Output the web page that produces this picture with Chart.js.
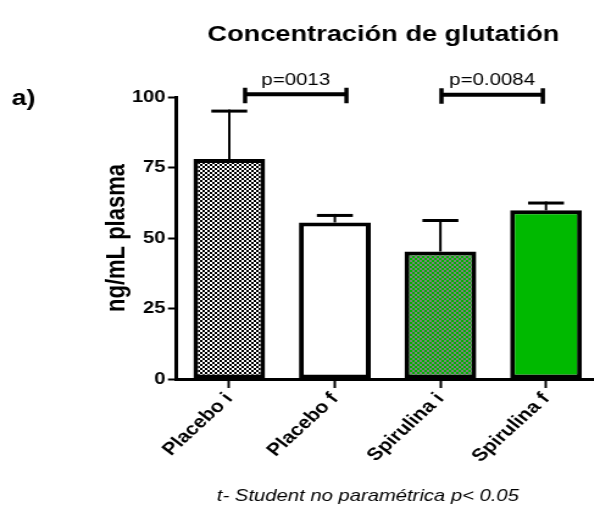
<!DOCTYPE html>
<html><head><meta charset="utf-8">
<script src="https://cdn.jsdelivr.net/npm/chart.js@4/dist/chart.umd.min.js"></script>
<style>
html,body{margin:0;padding:0;overflow:hidden;background:#fff;width:594px;height:518px;}
#c{display:block;width:600px !important;height:518px !important;max-width:none !important;}
</style></head><body>
<canvas id="c" width="492" height="518"></canvas>
<script>
// ---- data ----
const categories = ['Placebo i', 'Placebo f', 'Spirulina i', 'Spirulina f'];
const means = [78, 55.5, 45.2, 59.8];
const errors = [17, 2.5, 11, 2.6];
const yTicks = [0, 25, 50, 75, 100];
const compFrom = [0.15, 2.01];
const compTo = [1.11, 2.97];
const compY = [101, 100.8];
const compLabels = ['p=0013', 'p=0.0084'];
const titleText = 'Concentración de glutatión';
const yTitle = 'ng/mL plasma';
const panelLabel = 'a)';
const footnote = 't- Student no paramétrica p< 0.05';

const FONT = '"Liberation Sans", Arial, sans-serif';

function checker(c1, c2, size) {
  const p = document.createElement('canvas');
  p.width = size * 2; p.height = size * 2;
  const g = p.getContext('2d');
  g.fillStyle = c1; g.fillRect(0, 0, size * 2, size * 2);
  g.fillStyle = c2; g.fillRect(0, 0, size, size); g.fillRect(size, size, size, size);
  return g.createPattern(p, 'repeat');
}
const pat1 = checker('#ffffff', '#000000', 2);
const pat3 = checker('#00b400', '#7f7f7f', 2);

const extras = {
  id: 'extras',
  afterDatasetsDraw(chart) {
    const ctx = chart.ctx, ys = chart.scales.y;
    const meta = chart.getDatasetMeta(0);
    ctx.save();
    ctx.strokeStyle = '#000';
    meta.data.forEach((bar, i) => {
      const x = bar.x;
      const y0 = ys.getPixelForValue(means[i]);
      const y1 = ys.getPixelForValue(means[i] + errors[i]);
      ctx.lineWidth = 2;
      ctx.beginPath(); ctx.moveTo(x, y0); ctx.lineTo(x, y1 - 1.5); ctx.stroke();
      ctx.lineWidth = 3;
      ctx.beginPath(); ctx.moveTo(x - 14.75, y1); ctx.lineTo(x + 14.75, y1); ctx.stroke();
    });
    ctx.restore();
  },
  afterDraw(chart) {
    const ctx = chart.ctx, xs = chart.scales.x, ys = chart.scales.y;
    ctx.save();
    ctx.fillStyle = '#000'; ctx.strokeStyle = '#000';
    compLabels.forEach((lab, i) => {
      const xa = xs.getPixelForValue(compFrom[i]);
      const xb = xs.getPixelForValue(compTo[i]);
      const y = ys.getPixelForValue(compY[i]);
      ctx.lineWidth = 4;
      ctx.beginPath(); ctx.moveTo(xa, y); ctx.lineTo(xb, y); ctx.stroke();
      ctx.lineWidth = 3.5;
      ctx.beginPath();
      ctx.moveTo(xa, y - 6.5); ctx.lineTo(xa, y + 9);
      ctx.moveTo(xb, y - 6.5); ctx.lineTo(xb, y + 9);
      ctx.stroke();
      ctx.font = '16.8px ' + FONT;
      ctx.textAlign = 'center'; ctx.textBaseline = 'alphabetic';
      ctx.fillText(lab, (xa + xb) / 2, y - 9.5);
    });
    ctx.font = 'bold 22.3px ' + FONT;
    ctx.textAlign = 'center'; ctx.textBaseline = 'alphabetic';
    ctx.fillText(titleText, 314.4, 41);
    ctx.font = 'bold 22px ' + FONT;
    ctx.textAlign = 'left';
    ctx.fillText(panelLabel, 9.5, 105);
    ctx.font = 'italic 16.6px ' + FONT;
    ctx.textAlign = 'center';
    ctx.fillText(footnote, 301.7, 501);
    ctx.restore();
  }
};

new Chart(document.getElementById('c'), {
  type: 'bar',
  data: {
    labels: categories,
    datasets: [{
      data: means,
      backgroundColor: [pat1, '#ffffff', pat3, '#00b900'],
      borderColor: '#000',
      borderWidth: 4,
      borderSkipped: false,
      barPercentage: 0.68,
      categoryPercentage: 1
    }]
  },
  options: {
    responsive: false,
    animation: false,
    devicePixelRatio: 1,
    layout: { padding: { top: 97, right: 1, left: 0, bottom: 0 } },
    plugins: { legend: { display: false }, tooltip: { enabled: false }, title: { display: false } },
    scales: {
      x: {
        offset: true,
        grid: { display: true, drawOnChartArea: false, drawTicks: true, tickLength: 9, tickWidth: 2, tickColor: '#000', offset: false },
        border: { display: true, color: '#000', width: 3 },
        ticks: { color: '#000', font: { family: FONT, size: 17.5, weight: 'bold' }, minRotation: 48, maxRotation: 48, autoSkip: false, padding: 1 },
        afterFit(s) { s.height = 139; }
      },
      y: {
        min: 0, max: 100,
        afterBuildTicks(s) { s.ticks = yTicks.map(v => ({ value: v })); },
        grid: { display: true, drawOnChartArea: false, drawTicks: true, tickLength: 7, tickWidth: 2, tickColor: '#000' },
        border: { display: true, color: '#000', width: 3 },
        ticks: { color: '#000', font: { family: FONT, size: 16.5, weight: 'bold' }, padding: 2 },
        title: { display: true, text: yTitle, color: '#000', font: { family: FONT, size: 22, weight: 'bold' }, padding: { top: 83, bottom: 0 } },
        afterFit(s) { s.width = 144.7; }
      }
    }
  },
  plugins: [extras]
});
</script>
</body></html>
